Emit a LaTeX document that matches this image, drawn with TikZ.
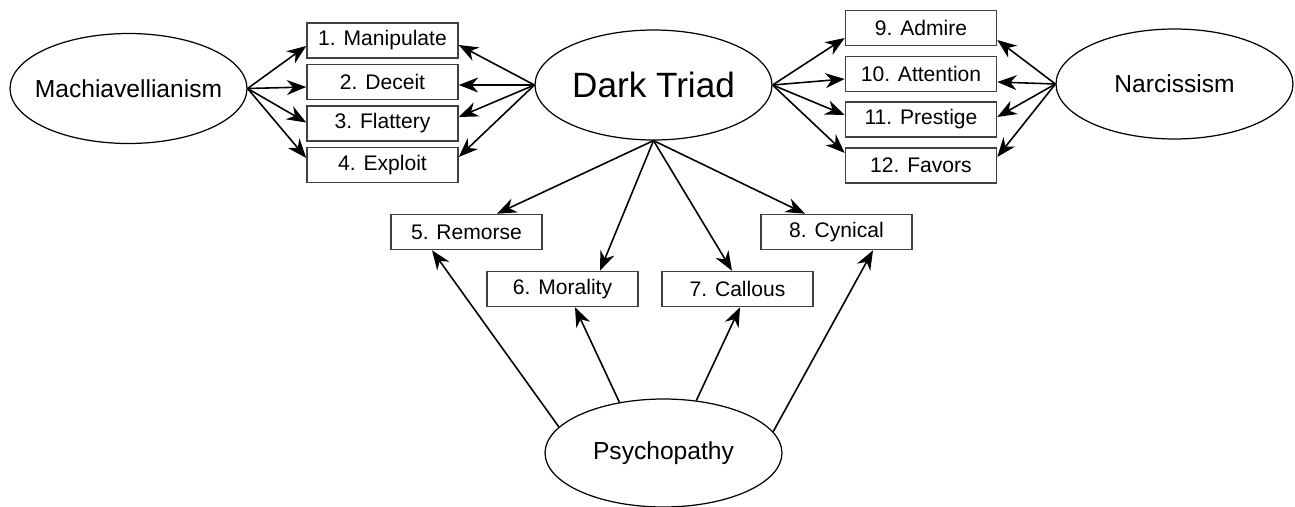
\documentclass[tikz,border=0pt]{standalone}
\usepackage{fontspec}
\setmainfont{Liberation Sans}
\usepackage{tikz}
\usetikzlibrary{shapes,arrows.meta,calc}
\tikzstyle{arr}  =[-{Stealth[length=11pt,width=8.5pt,inset=3.5pt]}, line width=0.9pt]
\tikzstyle{trait}=[draw, ellipse, line width=0.7pt, minimum width=4.74cm, minimum height=2.2cm,
                   inner sep=0pt, font=\fontsize{14}{16}\selectfont]
\tikzstyle{item} =[draw=black!75, rectangle, line width=0.9pt, minimum width=3.02cm,
                   minimum height=0.7cm, inner sep=0pt, font=\fontsize{12}{14}\selectfont]
\newcommand{\tname}[1]{\makebox[0pt]{#1}}

\begin{document}
\begin{tikzpicture}[x=0.02cm, y=-0.02cm]
  \useasboundingbox (0,0) rectangle (1295,507);

  % ── traits ────────────────────────────────────────────────────────────────
  \node[trait] (mach) at (128.5, 88.5) {\tname{Machiavellianism}};
  \node[trait, font=\fontsize{20}{24}\selectfont] (dt) at (653.5, 85) {\tname{Dark Triad}};
  \node[trait] (nar) at (1174.5, 84) {\tname{Narcissism}};
  \node[trait, minimum height=2.16cm] (psy) at (663.5, 453) {\tname{Psychopathy}};

  % ── items ─────────────────────────────────────────────────────────────────
  \node[item] (i1)  at (382.5, 40.5) {1. Manipulate};
  \node[item] (i2)  at (382.5, 82)   {2. Deceit};
  \node[item] (i3)  at (382.5, 123.5) {3. Flattery};
  \node[item] (i4)  at (382.5, 165)  {4. Exploit};

  \node[item] (i5)  at (466.5, 232)  {5. Remorse};
  \node[item] (i6)  at (562.5, 289)  {6. Morality};
  \node[item] (i7)  at (737.5, 289)  {7. Callous};
  \node[item] (i8)  at (836.5, 232)  {8. Cynical};

  \node[item] (i9)  at (921, 28)     {9. Admire};
  \node[item] (i10) at (921, 74)     {10. Attention};
  \node[item] (i11) at (921, 119.5)  {11. Prestige};
  \node[item] (i12) at (921, 165.5)  {12. Favors};

  % ── Machiavellianism ──────────────────────────────────────────────────────
  \draw[arr] (mach.east) -- ($(i1.west)+(0,5.5)$);
  \draw[arr] (mach.east) -- ($(i2.west)+(0,5)$);
  \draw[arr] (mach.east) -- ($(i3.west)+(0,-1)$);
  \draw[arr] (mach.east) -- ($(i4.west)+(0,-7)$);

  % ── Dark Triad ────────────────────────────────────────────────────────────
  \draw[arr] (dt.west) -- ($(i1.east)+(0,4.5)$);
  \draw[arr] (dt.west) -- ($(i2.east)+(0,3)$);
  \draw[arr] (dt.west) -- ($(i3.east)+(0,-6.5)$);
  \draw[arr] (dt.west) -- ($(i4.east)+(0,-8)$);

  \draw[arr] (dt.east) -- ($(i9.west)+(0,10)$);
  \draw[arr] (dt.east) -- ($(i10.west)+(0,5)$);
  \draw[arr] (dt.east) -- ($(i11.west)+(0,-4.5)$);
  \draw[arr] (dt.east) -- ($(i12.west)+(0,-12.5)$);

  \draw[arr] (dt.south) -- ($(i5.north)+(30.5,0)$);
  \draw[arr] (dt.south) -- ($(i6.north)+(37.5,0)$);
  \draw[arr] (dt.south) -- ($(i7.north)+(-5.5,0)$);
  \draw[arr] (dt.south) -- ($(i8.north)+(-31.5,0)$);

  % ── Narcissism ────────────────────────────────────────────────────────────
  \draw[arr] (nar.west) -- ($(i9.east)+(0,12)$);
  \draw[arr] (nar.west) -- ($(i10.east)+(0,8)$);
  \draw[arr] (nar.west) -- ($(i11.east)+(0,-2.5)$);
  \draw[arr] (nar.west) -- ($(i12.east)+(0,-8.5)$);

  % ── Psychopathy ───────────────────────────────────────────────────────────
  \draw[arr] (psy.166) -- ($(i5.south)+(-34.5,0)$);
  \draw[arr] (psy.131) -- ($(i6.south)+(12.5,0)$);
  \draw[arr] (psy.58)  -- ($(i7.south)+(2.5,0)$);
  \draw[arr] (psy.11)  -- ($(i8.south)+(36.5,0)$);

\end{tikzpicture}
\end{document}
